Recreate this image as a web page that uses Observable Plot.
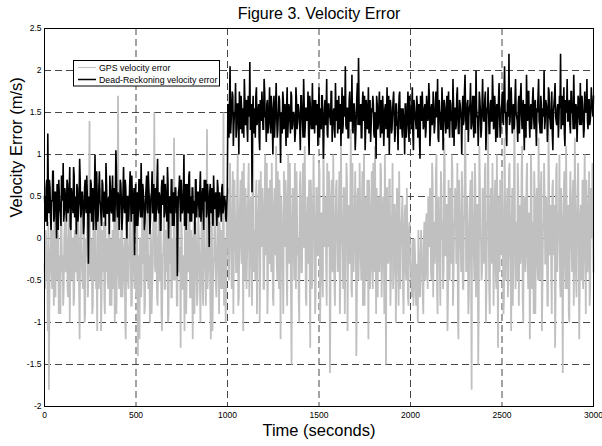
<!DOCTYPE html>
<html>
<head>
<meta charset="utf-8">
<script src="https://cdn.jsdelivr.net/npm/d3@7"></script>
<script src="https://cdn.jsdelivr.net/npm/@observablehq/plot@0.6"></script>
<style>
  body { margin: 0; background: #fff; font-family: "Liberation Sans", Arial, sans-serif; }
  #wrap { position: relative; width: 602px; height: 446px; }
  #legend { position: absolute; left: 73px; top: 60px; }
</style>
</head>
<body>
<div id="wrap">
  <div id="chart"></div>
  <svg id="legend" width="148" height="27" font-family="Liberation Sans, Arial, sans-serif" font-size="8.8">
    <rect x="0.5" y="0.5" width="146" height="25.5" fill="#fff" stroke="#000" stroke-width="1"></rect>
    <line x1="5" x2="23" y1="7.5" y2="7.5" stroke="#c0c0c0" stroke-width="1"></line>
    <text x="26" y="10.5" fill="#000">GPS velocity error</text>
    <line x1="5" x2="23" y1="19.5" y2="19.5" stroke="#000" stroke-width="1.5"></line>
    <text x="26" y="22.5" fill="#000">Dead-Reckoning velocity error</text>
  </svg>
</div>
<script>
// Sampling: series A at t = 0, 6, 12, ... s ; series B at t = 3, 9, 15, ... s
const sampleStep = 6;
const offsetB = 3;

// GPS velocity error (m/s), samples A (t = 0 .. 3000)
const gpsErrorA = [
  -0.3, 0.1, -0.5, -1.1, -1.8, -0.2, 0.2, -0.6, -0.1, 0.3, -0.7, -0.3, 0.1, -0.9, -0.2, 0.4, -0.4, -0.8, 0.0, -0.3,
  0.2, -0.6, -0.1, -1.0, 0.3, -0.4, 0.0, -0.7, -0.2, 0.5, -0.5, -0.1, -1.2, 0.2, -0.3, -0.6, 0.1, -0.9, -0.2, 0.3,
  -0.4, 1.4, -0.5, 0.0, -0.8, -0.2, 0.3, -0.6, -1.1, 0.1, -0.3, 0.6, -0.7, -0.2, 0.2, -0.9, -0.4, 0.0, -0.6, 0.4,
  -0.2, -0.8, 0.1, -0.5, -1.0, 0.3, -0.3, 1.7, -0.6, -0.1, 0.2, -0.7, -0.3, 0.0, -1.2, 0.3, -0.5, -0.1, 0.5, -0.8,
  -0.2, 0.1, -0.6, -0.3, 0.2, -1.4, -0.4, 0.0, -0.7, 0.4, -0.2, -0.9, 0.1, -0.5, 0.3, -0.3, -1.0, 0.0, -0.6, 0.2,
  1.5, -0.4, -0.1, -0.8, 0.3, -0.5, 0.0, -1.1, -0.2, 0.5, -0.6, -0.3, 0.2, -0.9, -0.1, 0.4, -0.7, -0.2, 1.2, -0.5,
  0.0, -0.8, 0.3, -0.3, -1.3, 0.1, -0.6, -0.2, 0.4, -0.9, 0.0, -0.4, 0.6, -0.7, -0.1, -1.2, 0.2, -0.5, 0.0, -0.8,
  0.3, -0.3, -1.0, 0.1, -0.6, 0.5, -0.2, -0.8, 1.3, -0.4, 0.0, -0.7, 0.2, -1.1, -0.3, 0.4, -0.5, -0.1, 0.3, -0.9,
  -0.2, 0.1, -0.6, 1.5, -0.4, -1.0, 0.2,
  0.6, -0.5, 0.9, -0.2, 0.3, -0.9, 0.7, 0.0, -0.4, 1.0, -0.7, 0.4, -0.1, 0.8, -1.1, 0.2, 0.6, -0.6, 0.1, 0.9,
  -0.3, 0.5, -0.8, 1.2, 0.0, -0.5, 0.7, -0.2, 0.4, -1.0, 0.8, -0.1, 0.3, -0.6, 1.0, 0.1, -0.9, 0.6, -0.3, 0.2,
  0.9, -0.7, 0.4, -0.2, 1.1, -0.5, 0.0, 0.7, -1.2, 0.3, -0.4, 0.8, -0.1, 0.5, -0.8, 1.0, -0.3, 0.2, -1.5, 0.6,
  -0.2, 0.9, -0.6, 0.3, 0.0, -1.0, 0.8, -0.4, 0.5, -0.1, 1.1, -0.7, 0.2, -0.3, 0.7, -1.3, 0.4, -0.5, 1.0, 0.0,
  -0.6, 0.6, -0.2, 0.9, -1.0, 0.3, -0.4, 1.2, -0.1, 0.5, -0.8, 0.2, 0.8, -1.6, 0.4, -0.3, 1.0, -0.5, 0.1, 0.7,
  -0.4, 0.3, -0.9, 1.1, 0.0, -0.6, 0.6, -0.2, 0.9, -1.1, 0.4, -0.3, 1.3, -0.7, 0.2, -0.1, 0.8, -1.4, 0.5, -0.5,
  0.9, -0.2, 0.3, -0.8, 1.0, 0.1, -0.5, 0.7, -1.2, 0.4, -0.3, 0.8, -0.6, 0.2, 1.1, -0.9, 0.0, 0.5, -0.4, 0.9,
  -0.7, 0.3, -0.1, 1.0, -1.5, 0.6, -0.3, 0.7, -0.8, 0.2, 0.9, -0.4, 0.4, -1.0, 0.6, -0.2, 0.8, -0.6, 0.1, 0.5,
  -0.9, 0.3, -0.4, 0.6, -0.7, 0.1, -0.3,
  -0.5, -0.1, -0.8, 0.0, -0.6, -0.3, -1.0, -0.2, -0.7, 0.1, -0.4, -0.9, 0.2, -0.5, 0.3, -0.6, 0.4,
  0.6, -0.4, 0.9, -0.7, 0.2, -0.1, 1.0, -0.9, 0.5, -0.3, 0.8, 0.0, -0.6, 1.2, -0.2, 0.4, -1.1, 0.7, -0.5, 0.3,
  1.0, -0.8, 0.1, 0.6, -0.3, 0.9, -1.2, 0.4, -0.1, 0.8, -0.6, 0.2, 1.3, -0.4, 0.5, -0.9, 0.0, 0.7, -1.8, 0.3,
  -0.2, 0.9, -0.7, 0.4, -1.5, 1.1, 0.0, -0.5, 0.6, -0.3, 0.8, -1.0, 0.2, 1.4, -0.6, 0.3, -0.1, 0.9, -0.8, 0.5,
  -0.4, 1.0, -1.3, 0.1, 0.7, -0.2, 0.4, -0.9, 1.2, -0.5, 0.3, -0.7, 0.8, 0.0, -1.1, 0.6, -0.3, 1.5, -0.6, 0.2,
  0.9, -0.8, 0.4, -0.1, 1.1, -1.0, 0.5, -0.4, 0.7, -0.2, 0.3, -1.2, 1.0, -0.6, 0.2, 0.8, -0.9, 0.4, -0.3, 1.2,
  -0.5, 0.6, -1.1, 0.1, 0.9, -0.3, 0.5, -0.8, 1.3, -0.2, 0.4, -0.9, 0.7, 0.0, -1.3, 0.8, -0.4, 0.3, 1.0, -0.7,
  0.2, -1.6, 0.6, -0.3, 1.1, -0.6, 0.4, -1.0, 0.8, -0.1, 0.5, -0.8, 1.2, -0.4, 0.2, 0.9, -1.2, 0.3, -0.5, 0.7,
  -0.2, 1.0, -0.9, 0.4, -0.3, 0.8, -0.6, 0.2, 0.9, -0.4
];

// GPS velocity error (m/s), samples B (t = 3 .. 2997)
const gpsErrorB = [
  -0.6, 0.0, -0.3, 0.2, -0.7, -0.1, -0.4, 0.1, -0.8, -0.2, 0.3, -0.5, 0.0, -0.3, -0.9, 0.1, -0.2, -0.6, 0.2, -0.4,
  -0.1, -0.7, 0.3, -0.3, -0.5, 0.0, -0.8, 0.1, -0.4, -0.2, 0.2, -0.6, -0.1, 0.4, -0.5, -0.3, -1.0, 0.0, -0.2, -0.7,
  0.1, -0.4, -0.1, -0.9, 0.2, -0.5, 0.0, -0.3, 0.3, -0.6, -0.2, -1.1, 0.1, -0.4, -0.7, 0.2, -0.1, -0.5, 0.3, -0.8,
  0.0, -0.3, -0.6, 0.2, -0.2, -0.9, 0.1, -0.4, 0.0, -0.7, 0.4, -0.5, -0.1, -1.0, 0.2, -0.3, -0.6, 0.1, -0.2, -0.8,
  0.3, -0.4, -0.1, -0.7, 0.1, -0.2, -1.2, 0.0, -0.5, -0.3, 0.2, -0.8, -0.1, 0.4, -0.6, -0.2, 0.1, -0.9, -0.4, 0.0,
  -0.3, 0.2, -0.7, -0.1, -0.5, 0.3, -0.9, -0.2, 0.0, -0.6, 0.1, -0.4, -1.0, 0.2, -0.3, -0.7, 0.0, -0.5, 0.3, -0.2,
  -0.8, 0.1, -0.4, -0.1, 0.2, -0.6, -0.3, -1.1, 0.0, -0.5, 0.3, -0.2, -0.7, 0.1, -0.4, 0.0, -0.9, 0.2, -0.3, -0.6,
  0.1, -0.5, -0.2, 0.4, -0.8, -0.1, -0.4, 0.2, -0.6, -0.3, 0.0, -1.2, 0.1, -0.5, -0.2, 0.3, -0.7, -0.1, -0.4, 0.2,
  -0.6, -0.2, 0.1, -0.8, 0.0, -0.4, 0.3,
  -0.2, 0.5, 0.1, -0.6, 0.8, -0.1, 0.3, -0.4, 0.6, -0.8, 0.2, 0.7, -0.3, 0.0, 0.9, -0.5, 0.4, -0.2, 0.6, -0.7,
  0.3, -0.1, 0.8, -0.4, 0.1, 0.5, -0.9, 0.2, 0.7, -0.3, 0.0, 0.6, -0.6, 0.4, -0.2, 0.9, -0.5, 0.1, 0.7, -0.4,
  0.2, -0.8, 0.6, 0.0, -0.3, 0.8, -0.6, 0.3, 0.5, -0.1, -0.9, 0.4, 0.7, -0.4, 0.2, -0.2, 0.9, -0.7, 0.1, 0.5,
  -0.5, 0.3, 0.8, -0.2, -0.7, 0.6, 0.1, -0.4, 0.9, -0.1, 0.3, -0.8, 0.5, 0.0, -0.3, 0.7, -0.6, 0.2, 0.4, -0.9,
  0.6, -0.2, 0.1, 0.8, -0.5, 0.3, -0.7, 0.5, 0.0, -0.3, 0.9, -0.1, 0.4, -0.6, 0.7, -0.4, 0.2, -0.8, 0.6, 0.1,
  -0.3, 0.8, -0.5, 0.4, -0.1, 0.6, -0.9, 0.2, 0.7, -0.2, 0.0, 0.5, -0.6, 0.9, -0.4, 0.3, 0.1, -0.7, 0.6, -0.1,
  0.4, -0.5, 0.8, 0.0, -0.8, 0.5, -0.2, 0.3, 0.7, -0.6, 0.1, -0.3, 0.9, -0.4, 0.2, 0.6, -0.7, 0.4, -0.1, 0.8,
  -0.3, 0.5, -0.9, 0.2, 0.6, -0.2, 0.0, 0.7, -0.5, 0.3, -0.6, 0.4, 0.1, -0.3, 0.5, -0.8, 0.2, -0.1, 0.3, -0.6,
  -0.2, 0.4, -0.5, 0.0, -0.8, 0.2,
  -0.3, -0.7, 0.0, -0.5, -0.2, -0.8, -0.4, 0.1, -0.6, -0.3, -0.1, -0.7, 0.0, -0.4, 0.2, -0.2, 0.5,
  -0.1, 0.5, -0.5, 0.7, 0.1, -0.3, 0.8, -0.6, 0.3, 0.0, -0.8, 0.6, 0.2, -0.4, 0.9, -0.2, 0.4, -0.7, 0.1, 0.6,
  -0.3, 0.8, -0.5, 0.2, 0.5, -0.1, -0.9, 0.7, 0.0, -0.4, 0.6, -0.6, 0.3, 0.9, -0.2, 0.1, -0.7, 0.5, -0.3, 0.8,
  0.2, -0.5, 0.6, -0.1, 0.4, -0.8, 0.7, 0.0, -0.4, 0.5, -0.2, 0.9, -0.6, 0.1, 0.3, -0.9, 0.6, -0.3, 0.2, -0.1,
  0.7, -0.6, 0.3, 0.5, -0.4, 0.1, 0.8, -0.2, -0.7, 0.4, 0.0, 0.6, -0.5, 0.9, -0.3, 0.2, -0.8, 0.5, 0.1, -0.2,
  -0.5, 0.6, 0.0, -0.3, 0.8, -0.7, 0.2, 0.4, -0.1, 0.9, -0.6, 0.3, -0.4, 0.7, 0.0, -0.9, 0.5, -0.2, 0.6, -0.5,
  0.3, -0.1, 0.8, -0.6, 0.2, 0.5, -0.3, 0.0, -0.8, 0.7, 0.1, -0.4, 0.6, -0.2, 0.4, -0.7, 0.9, -0.1, 0.2, -0.5,
  0.6, -0.3, 0.1, 0.8, -0.6, 0.4, -0.1, -0.9, 0.5, 0.2, -0.4, 0.7, -0.2, 0.3, -0.7, 0.6, 0.0, -0.5, 0.4, 0.1,
  -0.6, 0.5, -0.1, 0.7, -0.4, 0.2, -0.8, 0.6, 0.0, 0.3
];

// Dead-Reckoning velocity error (m/s), samples A (t = 0 .. 3000)
const drErrorA = [
  0.5, 0.2, 0.7, 1.25, 0.3, 0.6, 0.1, 0.45, 0.8, 0.25, 0.55, 0.0, 0.4, 0.7, 0.35, 0.15, 0.6, 0.9, 0.3, 0.5,
  0.2, 0.65, 0.4, 0.85, 0.1, 0.5, 0.3, 0.75, 0.45, 0.05, 0.6, 0.35, 0.95, 0.25, 0.55, 0.4, 0.15, 0.7, 0.3, 0.5,
  -0.3, 0.45, 0.7, 0.2, 0.6, 0.35, 1.0, 0.1, 0.5, 0.3, 0.8, 0.4, 0.15, 0.65, 0.25, 0.55, 0.9, 0.3, 0.45, 0.05,
  0.6, 0.3, 0.75, 0.4, 0.2, 1.05, 0.35, 0.55, 0.1, 0.7, 0.45, 0.25, 0.85, 0.3, 0.6, 0.0, 0.5, 0.35, 0.8, 0.2,
  0.5, 0.3, -0.2, 0.65, 0.4, 0.15, 0.7, 0.35, 0.9, 0.25, 0.55, 0.1, 0.45, 0.75, 0.3, 0.6, 0.05, 0.5, 0.8, 0.35,
  0.2, 0.6, 0.4, 0.95, 0.3, 0.5, 0.1, 0.7, 0.45, 0.25, 0.65, 0.35, 0.85, 0.0, 0.5, 0.3, 0.7, 0.4, 0.15, 0.6,
  0.3, -0.45, 0.55, 0.75, 0.2, 0.5, 0.35, 1.0, 0.4, 0.1, 0.65, 0.3, 0.8, 0.45, 0.2, 0.6, 0.35, 0.05, 0.7, 0.4,
  0.55, 0.25, 0.8, 0.35, 0.6, 0.1, 0.45, 0.7, 0.3, 0.5, -0.1, 0.65, 0.4, 0.2, 0.75, 0.35, 0.55, 0.15, 0.6, 0.3,
  0.45, 0.2, 0.65, 0.35, 0.5, 0.25, 0.4,
  1.6, 1.2, 2.05, 1.4, 1.75, 1.1, 1.5, 1.85, 1.3, 1.6, 1.0, 1.45, 1.7, 1.25, 1.55, 1.9, 1.35, 1.65, 1.15, 1.5,
  2.1, 1.3, 0.55, 1.7, 1.45, 1.2, 1.8, 1.4, 1.6, 1.05, 1.5, 1.75, 1.3, 1.9, 1.45, 1.15, 1.65, 1.35, 1.8, 1.25,
  1.55, 1.0, 1.7, 1.4, 1.85, 1.2, 1.5, 1.65, 0.9, 1.45, 1.75, 1.3, 1.6, 1.1, 1.8, 1.4, 1.55, 1.25, 1.7, 1.35,
  1.5, 1.15, 1.8, 1.3, 1.6, 1.45, 1.05, 1.7, 1.35, 1.9, 1.2, 1.55, 1.4, 1.75, 1.0, 1.6, 1.3, 1.85, 1.45, 1.25,
  1.65, 1.4, 1.1, 1.8, 1.5, 1.3, 1.7, 0.95, 1.55, 1.35, 1.9, 1.2, 1.6, 1.45, 1.75, 1.15, 1.5, 1.3, 1.85, 1.4,
  1.25, 1.7, 1.45, 1.1, 1.8, 1.35, 1.6, 2.05, 1.3, 1.55, 1.2, 1.75, 1.4, 1.95, 1.25, 1.6, 1.05, 1.5, 1.85, 2.15,
  1.35, 1.6, 1.2, 1.75, 1.45, 1.05, 1.65, 1.3, 1.8, 1.4, 1.15, 1.55, 1.7, 1.25, 1.5, 0.95, 1.6, 1.35, 1.75, 1.2,
  1.45, 1.7, 1.1, 1.55, 1.3, 1.8, 1.4, 1.0, 1.65, 1.25, 1.5, 1.75, 1.15, 1.6, 1.35, 1.05, 1.7, 1.3, 1.55, 1.2,
  1.45, 1.0, 1.6, 1.35, 1.75, 1.15, 1.5, 1.3, 1.8, 1.05, 1.55, 1.4, 1.7, 1.2, 1.6, 0.95, 1.45, 1.75, 1.3, 1.55,
  1.2, 1.7, 1.4, 1.85, 1.1, 1.55, 1.35, 1.75, 1.25, 1.6, 1.45, 1.9, 1.15, 1.5, 1.3, 1.8, 1.05, 1.65, 1.4, 1.55,
  1.3, 1.75, 1.2, 1.6, 1.45, 1.9, 1.1, 1.55, 1.35, 1.8, 1.25, 1.65, 1.5, 1.0, 1.7, 1.4, 1.95, 1.3, 1.6, 1.15,
  1.55, 1.85, 1.35, 1.7, 1.2, 1.6, 2.0, 1.45, 1.1, 1.75, 1.5, 1.3, 1.9, 1.4, 1.65, 1.05, 1.55, 1.8, 1.25, 1.6,
  1.4, 1.95, 1.3, 1.7, 1.15, 1.6, 1.45, 1.85, 1.2, 1.55, 1.75, 1.35, 2.05, 1.5, 1.1, 1.65, 2.2, 1.4, 1.8, 1.25,
  1.6, 1.35, 1.9, 1.45, 1.15, 1.7, 1.5, 1.85, 1.3, 1.65, 1.05, 1.55, 1.95, 1.4, 1.75, 1.2, 1.6, 1.45, 1.8, 1.3,
  1.65, 1.1, 1.5, 1.9, 1.35, 1.7, 1.25, 1.55, 2.0, 1.4, 1.6, 1.15, 1.8, 1.45, 1.3, 1.75, 1.05, 1.6, 1.85, 1.4,
  1.55, 1.2, 1.7, 2.2, 1.45, 1.35, 1.8, 1.1, 1.6, 1.9, 1.4, 1.65, 1.25, 1.75, 1.5, 1.95, 1.3, 1.6, 1.15, 1.7,
  1.45, 1.85, 1.35, 1.6, 1.2, 1.75, 1.5, 1.9, 1.3, 1.65, 1.4, 1.8, 1.55, 1.7
];

// Dead-Reckoning velocity error (m/s), samples B (t = 3 .. 2997)
const drErrorB = [
  0.35, 0.6, 0.15, 0.5, 0.7, 0.25, 0.45, 0.8, 0.2, 0.55, 0.4, 0.65, 0.1, 0.5, 0.3, 0.75, 0.45, 0.2, 0.6, 0.35,
  0.7, 0.3, 0.55, 0.15, 0.6, 0.4, 0.85, 0.25, 0.5, 0.65, 0.2, 0.45, 0.7, 0.3, 0.55, 0.05, 0.6, 0.4, 0.75, 0.25,
  0.5, 0.3, 0.65, 0.45, 0.1, 0.55, 0.35, 0.8, 0.2, 0.6, 0.45, 0.25, 0.7, 0.4, 0.55, 0.15, 0.65, 0.3, 0.5, 0.75,
  0.35, 0.55, 0.2, 0.6, 0.45, 0.8, 0.25, 0.5, 0.35, 0.65, 0.1, 0.55, 0.4, 0.7, 0.3, 0.5, 0.2, 0.6, 0.45, 0.75,
  0.3, 0.6, 0.4, 0.15, 0.55, 0.35, 0.7, 0.25, 0.5, 0.65, 0.4, 0.2, 0.6, 0.35, 0.8, 0.45, 0.25, 0.55, 0.3, 0.65,
  0.45, 0.2, 0.7, 0.35, 0.55, 0.1, 0.6, 0.4, 0.75, 0.3, 0.5, 0.2, 0.65, 0.45, 0.35, 0.7, 0.15, 0.55, 0.4, 0.6,
  0.5, 0.25, 0.6, 0.4, 0.7, 0.3, 0.55, 0.15, 0.65, 0.45, 0.35, 0.75, 0.2, 0.5, 0.6, 0.3, 0.45, 0.7, 0.25, 0.55,
  0.4, 0.6, 0.2, 0.5, 0.35, 0.7, 0.45, 0.25, 0.65, 0.4, 0.55, 0.3, 0.6, 0.15, 0.5, 0.45, 0.35, 0.7, 0.25, 0.55,
  0.35, 0.6, 0.3, 0.5, 0.45, 0.2, 0.55,
  1.4, 1.65, 1.25, 1.55, 1.7, 1.35, 1.5, 1.2, 1.6, 1.45, 1.75, 1.3, 1.55, 1.4, 1.2, 1.65, 1.5, 1.35, 1.7, 1.45,
  1.3, 1.6, 1.45, 1.25, 1.55, 1.7, 1.35, 1.5, 1.2, 1.65, 1.4, 1.55, 1.3, 1.75, 1.45, 1.6, 1.25, 1.5, 1.4, 1.7,
  1.35, 1.55, 1.2, 1.6, 1.45, 1.3, 1.7, 1.4, 1.5, 1.25, 1.65, 1.45, 1.35, 1.55, 1.2, 1.6, 1.4, 1.75, 1.3, 1.5,
  1.45, 1.25, 1.65, 1.4, 1.55, 1.3, 1.7, 1.5, 1.2, 1.6, 1.35, 1.55, 1.45, 1.25, 1.7, 1.4, 1.5, 1.3, 1.65, 1.55,
  1.35, 1.6, 1.45, 1.2, 1.55, 1.7, 1.4, 1.3, 1.65, 1.5, 1.25, 1.6, 1.45, 1.35, 1.75, 1.4, 1.55, 1.2, 1.5, 1.65,
  1.4, 1.3, 1.6, 1.5, 1.25, 1.7, 1.45, 1.35, 1.55, 1.2, 1.65, 1.4, 1.5, 1.3, 1.6, 1.45, 1.25, 1.7, 1.35, 1.55,
  1.5, 1.2, 1.6, 1.4, 1.7, 1.3, 1.55, 1.45, 1.25, 1.65, 1.35, 1.5, 1.6, 1.2, 1.45, 1.7, 1.3, 1.55, 1.4, 1.65,
  1.25, 1.5, 1.35, 1.6, 1.45, 1.2, 1.7, 1.4, 1.55, 1.3, 1.65, 1.45, 1.25, 1.6, 1.35, 1.5, 1.75, 1.4, 1.3, 1.55,
  1.45, 1.6, 1.2, 1.5, 1.35, 1.7, 1.4, 1.55, 1.25, 1.65, 1.45, 1.3, 1.6, 1.5, 1.2, 1.7, 1.4, 1.55, 1.35, 1.6,
  1.3, 1.55, 1.45, 1.7, 1.25, 1.6, 1.4, 1.5, 1.35, 1.75, 1.45, 1.2, 1.65, 1.5, 1.3, 1.6, 1.4, 1.55, 1.25, 1.7,
  1.5, 1.35, 1.65, 1.4, 1.2, 1.6, 1.55, 1.3, 1.7, 1.45, 1.25, 1.6, 1.4, 1.55, 1.35, 1.75, 1.5, 1.3, 1.65, 1.45,
  1.6, 1.3, 1.5, 1.4, 1.7, 1.25, 1.55, 1.45, 1.35, 1.65, 1.2, 1.6, 1.5, 1.4, 1.75, 1.3, 1.55, 1.45, 1.25, 1.65,
  1.4, 1.7, 1.35, 1.55, 1.5, 1.2, 1.65, 1.45, 1.3, 1.6, 1.4, 1.75, 1.5, 1.25, 1.6, 1.45, 1.35, 1.7, 1.55, 1.4,
  1.3, 1.65, 1.5, 1.4, 1.6, 1.25, 1.7, 1.45, 1.55, 1.35, 1.6, 1.2, 1.5, 1.75, 1.4, 1.55, 1.3, 1.65, 1.45, 1.6,
  1.35, 1.55, 1.7, 1.4, 1.25, 1.6, 1.5, 1.45, 1.3, 1.65, 1.55, 1.35, 1.75, 1.4, 1.6, 1.25, 1.5, 1.7, 1.45, 1.35,
  1.6, 1.4, 1.55, 1.3, 1.7, 1.45, 1.25, 1.65, 1.5, 1.4, 1.6, 1.35, 1.75, 1.5, 1.3, 1.6, 1.45, 1.55, 1.4, 1.65,
  1.35, 1.5, 1.7, 1.45, 1.3, 1.6, 1.55, 1.4, 1.65, 1.35, 1.5, 1.6, 1.45
];

// Axis ticks and labels
const xTicks = [0, 500, 1000, 1500, 2000, 2500, 3000];
const yTicks = [-2, -1.5, -1, -0.5, 0, 0.5, 1, 1.5, 2, 2.5];
const titleText = "Figure 3. Velocity Error";
const xLabel = "Time (seconds)";
const yLabel = "Velocity Error (m/s)";

function merge(a, b) {
  const rows = a.map((v, i) => ({t: i * sampleStep, v}))
    .concat(b.map((v, i) => ({t: i * sampleStep + offsetB, v})));
  return rows.sort((p, q) => p.t - q.t);
}
const gps = merge(gpsErrorA, gpsErrorB);
const dr = merge(drErrorA, drErrorB);

const chart = Plot.plot({
  width: 602,
  height: 446,
  marginTop: 28,
  marginLeft: 44,
  marginRight: 9,
  marginBottom: 40,
  style: {fontFamily: "Liberation Sans, Arial, sans-serif", background: "#fff", color: "#000"},
  x: {domain: [0, 3000]},
  y: {domain: [-2, 2.5]},
  marks: [
    Plot.gridX(xTicks, {stroke: "#333", strokeOpacity: 0.9, strokeWidth: 1, strokeDasharray: "7,4"}),
    Plot.gridY(yTicks, {stroke: "#333", strokeOpacity: 0.9, strokeWidth: 1, strokeDasharray: "7,4"}),
    Plot.line(gps, {x: "t", y: "v", stroke: "#c0c0c0", strokeWidth: 1.8, strokeLinejoin: "miter", strokeMiterlimit: 2}),
    Plot.line(dr, {x: "t", y: "v", stroke: "#000", strokeWidth: 1.6, strokeLinejoin: "miter", strokeMiterlimit: 2}),
    Plot.frame({stroke: "#000", strokeWidth: 1}),
    Plot.axisX(xTicks, {tickSize: 0, tickPadding: 5, fontSize: 8.5, label: null, tickFormat: d => String(d)}),
    Plot.axisY(yTicks, {tickSize: 0, tickPadding: 3, fontSize: 8.5, label: null, tickFormat: d => String(d)}),
    Plot.text([titleText], {frameAnchor: "top", dy: -15, lineAnchor: "middle", fontSize: 16, fill: "#000"}),
    Plot.text([xLabel], {frameAnchor: "bottom", dy: 24, lineAnchor: "middle", fontSize: 16.5, fill: "#000"}),
    Plot.text([yLabel], {frameAnchor: "left", dx: -28, rotate: -90, lineAnchor: "middle", fontSize: 16.5, fill: "#000"})
  ]
});
document.getElementById("chart").appendChild(chart);
</script>
</body>
</html>
